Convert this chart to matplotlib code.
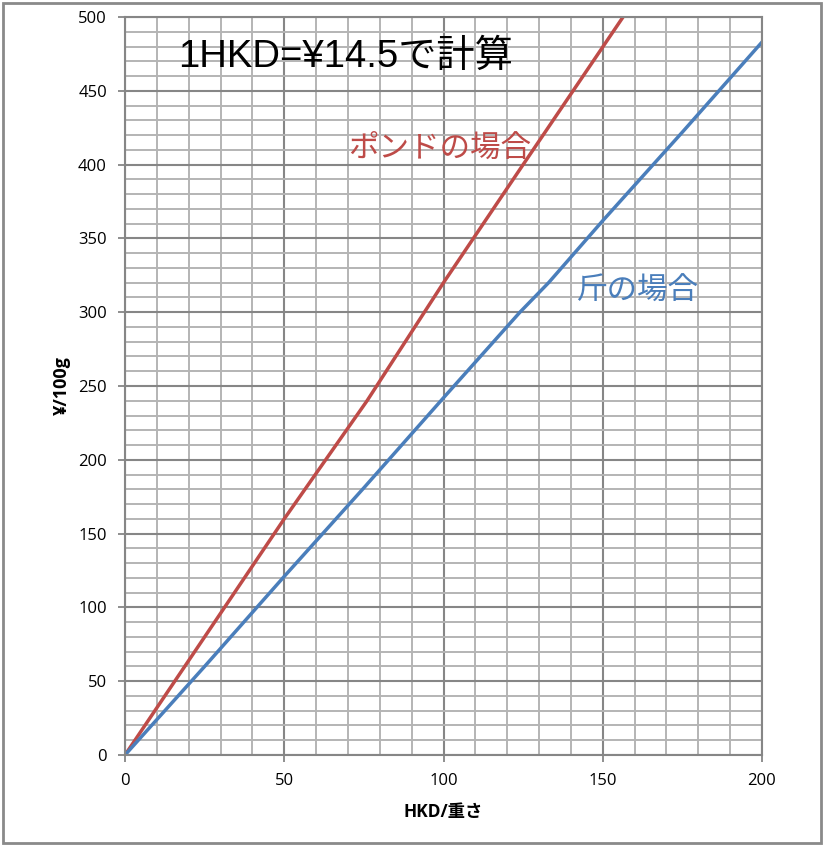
import matplotlib
matplotlib.use("Agg")
from matplotlib import pyplot as plt
from matplotlib.patches import Rectangle
import numpy as np

# values
hkd_pound = [0, 25, 50, 76, 100, 125, 157]
yen_pound = [0, 80, 160, 240, 320, 400, 502]
hkd_catty = [0, 25, 50, 75, 100, 124, 133, 150, 175, 200]
yen_catty = [0, 60, 121, 181, 242, 300, 320, 362, 422, 483]

title_text = "1HKD=¥14.5で計算"
pound_label = "ポンドの場合"
catty_label = "斤の場合"
x_label = "HKD/重さ"
y_label = "¥/100g"

RED = "#BE4B48"
BLUE = "#4A7EBB"
JP = ["Liberation Sans", "Noto Sans CJK JP", "DejaVu Sans"]


def main():
  plt.rcParams["font.family"] = ["Open Sans", "Noto Sans CJK JP", "DejaVu Sans"]

  fig = plt.figure(figsize=(8.24, 8.46), dpi=100)
  ax = fig.add_axes([125/824, 1-755/846, (762-125)/824, (755-17)/846])

  # chart area frame
  fig.patches.append(Rectangle((3/824, 3/846), 818/824, 840/846, transform=fig.transFigure,
                               fill=False, edgecolor="#8a8a8a", linewidth=2))

  ax.set_xlim(0, 200)
  ax.set_ylim(0, 500)
  ax.set_xticks(np.arange(0, 201, 50))
  ax.set_yticks(np.arange(0, 501, 50))
  ax.set_xticks(np.arange(0, 201, 10), minor=True)
  ax.set_yticks(np.arange(0, 501, 10), minor=True)
  ax.grid(which="minor", color="#b4b4b4", linewidth=1.4)
  ax.grid(which="major", color="#868686", linewidth=1.5)
  ax.set_axisbelow(True)
  ax.tick_params(which="major", direction="out", length=5, width=1.3, color="#868686",
                 labelsize=12, pad=8)
  ax.tick_params(which="minor", length=0)
  for s in ax.spines.values():
    s.set_color("#868686")
    s.set_linewidth(1.5)

  ax.plot(hkd_pound, yen_pound, color=RED, linewidth=2.5, clip_on=True)
  ax.plot(hkd_catty, yen_catty, color=BLUE, linewidth=2.5, clip_on=True)

  ax.text(16.6, 473, title_text, fontsize=27.5, va="center", ha="left", family=JP)
  ax.text(70, 411, pound_label, fontsize=22, color=RED, va="center", ha="left",
          family=["Noto Sans CJK JP"])
  ax.text(141.5, 314, catty_label, fontsize=22, color=BLUE, va="center", ha="left",
          family=["Noto Sans CJK JP"])

  ax.set_xlabel(x_label, fontsize=12.5, fontweight="bold", labelpad=10,
                family=["Open Sans", "Noto Sans CJK JP"])
  ax.set_ylabel(y_label, fontsize=13, fontweight="bold", labelpad=5,
                family=["Open Sans", "Noto Sans CJK JP"])

  fig.savefig("out.png", dpi=100)


if __name__ == "__main__":
  main()
